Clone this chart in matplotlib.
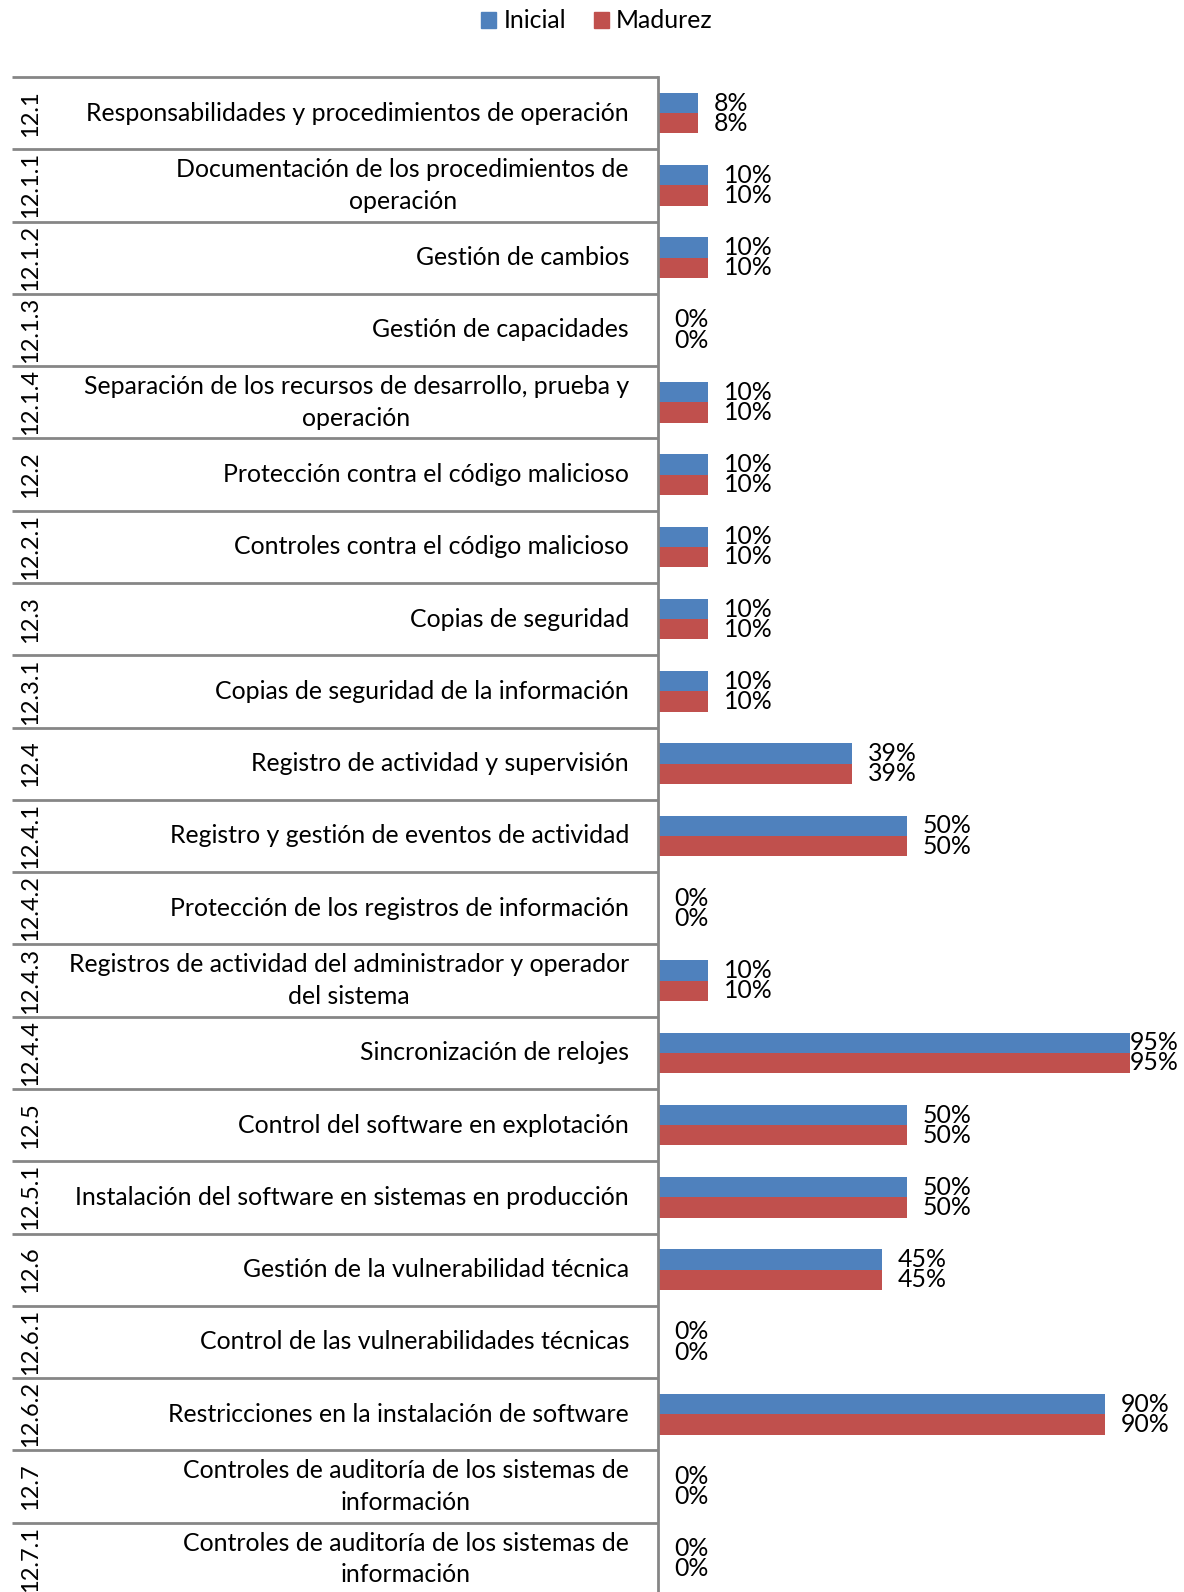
import matplotlib
matplotlib.use("Agg")
import matplotlib.pyplot as plt
from matplotlib.patches import Patch
from matplotlib.transforms import blended_transform_factory

plt.rcParams['font.family'] = ['Lato', 'DejaVu Sans']

codes = ["12.1", "12.1.1", "12.1.2", "12.1.3", "12.1.4", "12.2", "12.2.1",
         "12.3", "12.3.1", "12.4", "12.4.1", "12.4.2", "12.4.3", "12.4.4",
         "12.5", "12.5.1", "12.6", "12.6.1", "12.6.2", "12.7", "12.7.1"]
labels = ["Responsabilidades y procedimientos de operación",
          "Documentación de los procedimientos de\noperación",
          "Gestión de cambios",
          "Gestión de capacidades",
          "Separación de los recursos de desarrollo, prueba y\noperación",
          "Protección contra el código malicioso",
          "Controles contra el código malicioso",
          "Copias de seguridad",
          "Copias de seguridad de la información",
          "Registro de actividad y supervisión",
          "Registro y gestión de eventos de actividad",
          "Protección de los registros de información",
          "Registros de actividad del administrador y operador\ndel sistema",
          "Sincronización de relojes",
          "Control del software en explotación",
          "Instalación del software en sistemas en producción",
          "Gestión de la vulnerabilidad técnica",
          "Control de las vulnerabilidades técnicas",
          "Restricciones en la instalación de software",
          "Controles de auditoría de los sistemas de\ninformación",
          "Controles de auditoría de los sistemas de\ninformación"]
inicial = [0.08, 0.10, 0.10, 0.0, 0.10, 0.10, 0.10, 0.10, 0.10, 0.39, 0.50,
           0.0, 0.10, 0.95, 0.50, 0.50, 0.45, 0.0, 0.90, 0.0, 0.0]
madurez = [0.08, 0.10, 0.10, 0.0, 0.10, 0.10, 0.10, 0.10, 0.10, 0.39, 0.50,
           0.0, 0.10, 0.95, 0.50, 0.50, 0.45, 0.0, 0.90, 0.0, 0.0]

blue = "#4F81BD"
red = "#C0504D"
grey = "#868686"
W, H = 1184, 1592
fs = 17.9

fig = plt.figure(figsize=(W / 100, H / 100), dpi=100)
ax = fig.add_axes([658 / W, (H - 1595) / H, 497 / W, 1518 / H])

n = len(codes)
ys = list(range(n))
bh = 0.28
ax.barh([y - bh / 2 for y in ys], inicial, height=bh, color=blue)
ax.barh([y + bh / 2 for y in ys], madurez, height=bh, color=red)
ax.set_xlim(0, 1)
ax.set_ylim(n - 0.5, -0.5)
for s in ["top", "right", "bottom"]:
    ax.spines[s].set_visible(False)
ax.spines["left"].set_color(grey)
ax.spines["left"].set_linewidth(2)
ax.set_xticks([])
ax.set_yticks([])

# value labels
for y, a, b in zip(ys, inicial, madurez):
    for v, yy in ((a, y - bh / 2), (b, y + bh / 2)):
        ax.text(min(v + 0.032, 0.95), yy, "%d%%" % round(v * 100), ha="left",
                va="center", fontsize=fs, clip_on=False)

# category area on the left
tr = blended_transform_factory(fig.transFigure, ax.transData)
for i in range(n + 1):
    ax.plot([12 / W, 658 / W], [i - 0.5, i - 0.5], color=grey, lw=2,
            transform=tr, clip_on=False, solid_capstyle="butt")
for y, c, lab in zip(ys, codes, labels):
    ax.text(31 / W, y, c, rotation=90, ha="center", va="center", fontsize=17,
            transform=tr, clip_on=False)
    ax.text(629 / W, y, lab, ha="right", va="center", multialignment="center",
            fontsize=fs, transform=tr, clip_on=False, linespacing=1.45)

handles = [Patch(color=blue, label="Inicial"), Patch(color=red, label="Madurez")]
fig.legend(handles=handles, loc="center", bbox_to_anchor=(597 / W, 1 - 21 / H),
           ncol=2, frameon=False, fontsize=fs, handlelength=0.6, handleheight=0.6,
           handletextpad=0.3, columnspacing=1.1)

fig.savefig("out.png", dpi=100)
